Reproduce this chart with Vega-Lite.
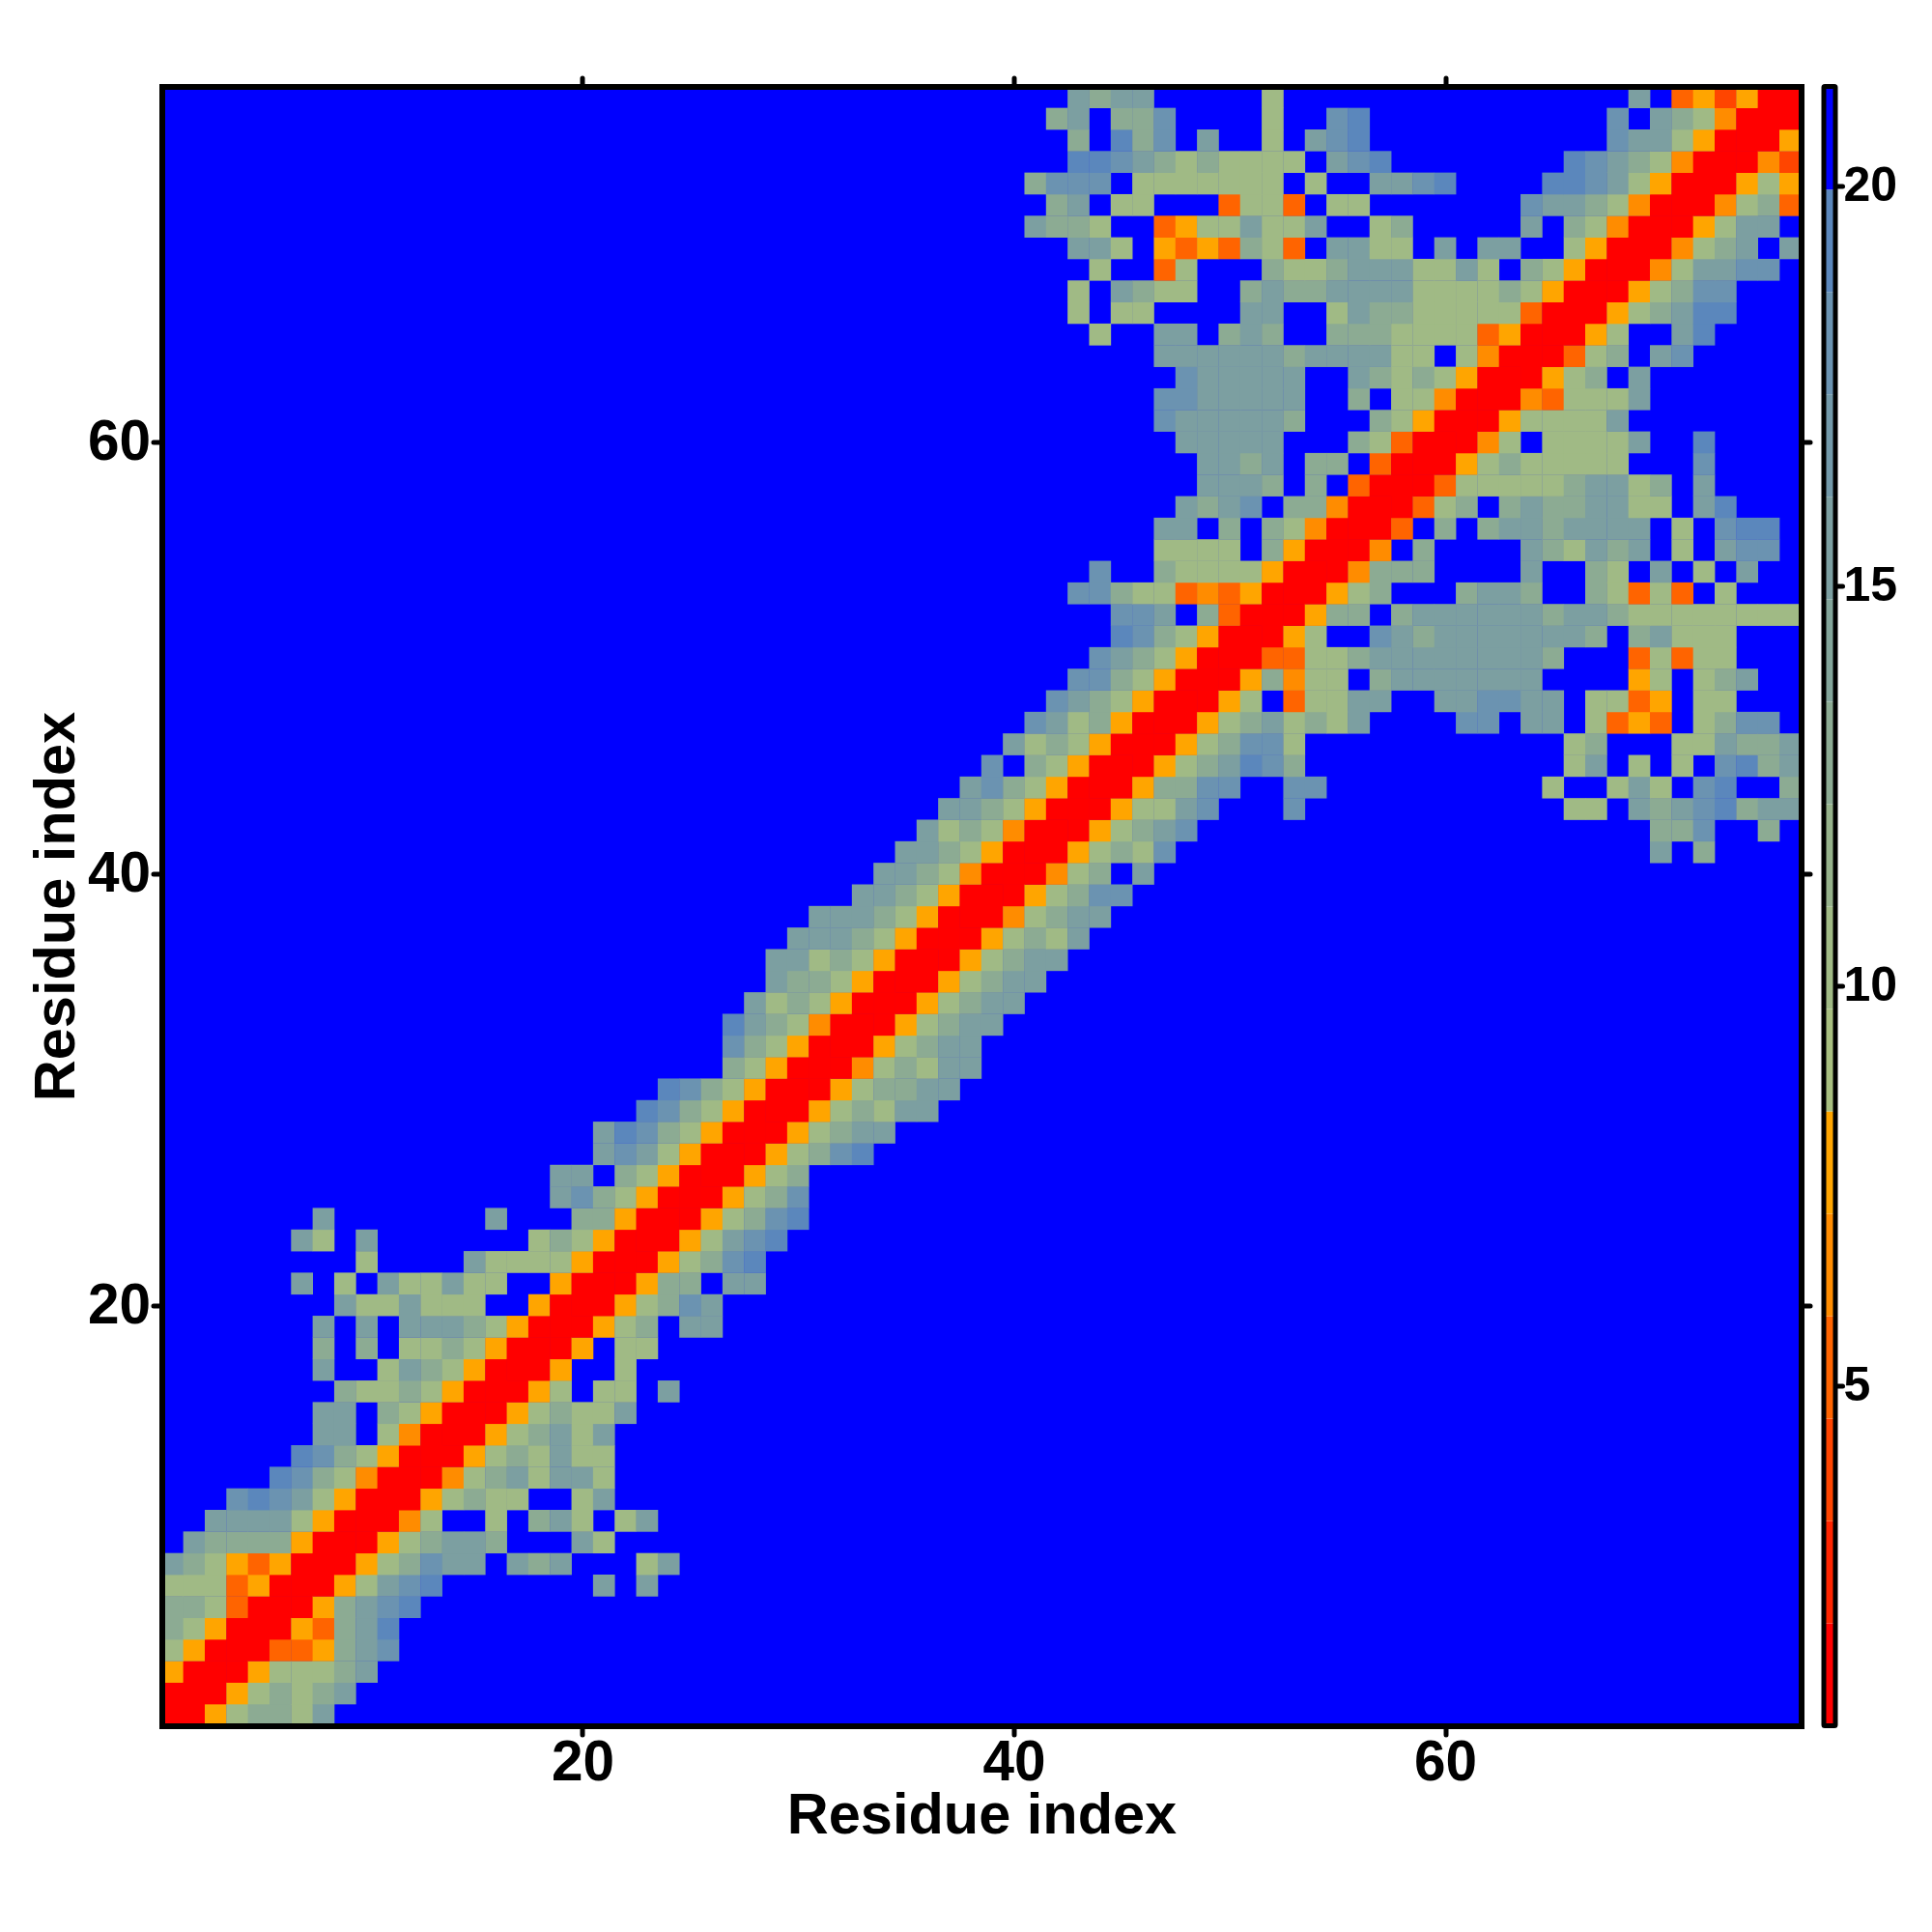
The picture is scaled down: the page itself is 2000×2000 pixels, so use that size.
{"$schema":"https://vega.github.io/schema/vega-lite/v6.json","background":"white","padding":{"left":28.5,"top":77.5,"right":5,"bottom":5},"bounds":"flush","spacing":23.5,"config":{"font":"Liberation Sans","view":{"continuousWidth":1697,"continuousHeight":1697}},"hconcat":[{"width":1697,"height":1697,"view":{"fill":"#0000ff","stroke":null},"data":{"name":"cells","values":[
{"i":1,"j":1,"v":1.4},{"i":1,"j":2,"v":1.4},{"i":2,"j":2,"v":1.4},{"i":1,"j":3,"v":7.8},{"i":2,"j":3,"v":1.4},{"i":3,"j":3,"v":1.4},{"i":1,"j":4,"v":10},{"i":2,"j":4,"v":7.8},{"i":3,"j":4,"v":1.4},{"i":4,"j":4,"v":1.4},
{"i":1,"j":5,"v":12.9},{"i":2,"j":5,"v":10},{"i":3,"j":5,"v":7.8},{"i":4,"j":5,"v":1.4},{"i":5,"j":5,"v":1.4},{"i":1,"j":6,"v":12.9},{"i":2,"j":6,"v":12.9},{"i":3,"j":6,"v":10},{"i":4,"j":6,"v":5.2},{"i":5,"j":6,"v":1.4},{"i":6,"j":6,"v":1.4},
{"i":1,"j":7,"v":10},{"i":2,"j":7,"v":10},{"i":3,"j":7,"v":10},{"i":4,"j":7,"v":5.2},{"i":5,"j":7,"v":7.8},{"i":6,"j":7,"v":1.4},{"i":7,"j":7,"v":1.4},
{"i":1,"j":8,"v":15.5},{"i":2,"j":8,"v":12.9},{"i":3,"j":8,"v":10},{"i":4,"j":8,"v":7.8},{"i":5,"j":8,"v":5.2},{"i":6,"j":8,"v":7.8},{"i":7,"j":8,"v":1.4},{"i":8,"j":8,"v":1.4},
{"i":2,"j":9,"v":15.5},{"i":3,"j":9,"v":12.9},{"i":4,"j":9,"v":12.9},{"i":5,"j":9,"v":12.9},{"i":6,"j":9,"v":12.9},{"i":7,"j":9,"v":7.8},{"i":8,"j":9,"v":1.4},{"i":9,"j":9,"v":1.4},
{"i":3,"j":10,"v":15.5},{"i":4,"j":10,"v":15.5},{"i":5,"j":10,"v":15.5},{"i":6,"j":10,"v":15.5},{"i":7,"j":10,"v":10},{"i":8,"j":10,"v":7.8},{"i":9,"j":10,"v":1.4},{"i":10,"j":10,"v":1.4},
{"i":4,"j":11,"v":18},{"i":5,"j":11,"v":19.3},{"i":6,"j":11,"v":18},{"i":7,"j":11,"v":15.5},{"i":8,"j":11,"v":10},{"i":9,"j":11,"v":7.8},{"i":10,"j":11,"v":1.4},{"i":11,"j":11,"v":1.4},
{"i":6,"j":12,"v":19.3},{"i":7,"j":12,"v":18},{"i":8,"j":12,"v":12.9},{"i":9,"j":12,"v":10},{"i":10,"j":12,"v":6.5},{"i":11,"j":12,"v":1.4},{"i":12,"j":12,"v":1.4},
{"i":7,"j":13,"v":19.3},{"i":8,"j":13,"v":18},{"i":9,"j":13,"v":12.9},{"i":10,"j":13,"v":10},{"i":11,"j":13,"v":7.8},{"i":12,"j":13,"v":1.4},{"i":13,"j":13,"v":1.4},
{"i":8,"j":14,"v":15.5},{"i":9,"j":14,"v":15.5},{"i":11,"j":14,"v":10},{"i":12,"j":14,"v":6.5},{"i":13,"j":14,"v":1.4},{"i":14,"j":14,"v":1.4},
{"i":8,"j":15,"v":15.5},{"i":9,"j":15,"v":15.5},{"i":11,"j":15,"v":12.9},{"i":12,"j":15,"v":10},{"i":13,"j":15,"v":7.8},{"i":14,"j":15,"v":1.4},{"i":15,"j":15,"v":1.4},
{"i":9,"j":16,"v":12.9},{"i":10,"j":16,"v":10},{"i":11,"j":16,"v":10},{"i":12,"j":16,"v":12.9},{"i":13,"j":16,"v":10},{"i":14,"j":16,"v":7.8},{"i":15,"j":16,"v":1.4},{"i":16,"j":16,"v":1.4},
{"i":8,"j":17,"v":15.5},{"i":11,"j":17,"v":10},{"i":12,"j":17,"v":15.5},{"i":13,"j":17,"v":12.9},{"i":14,"j":17,"v":10},{"i":15,"j":17,"v":7.8},{"i":16,"j":17,"v":1.4},{"i":17,"j":17,"v":1.4},
{"i":8,"j":18,"v":12.9},{"i":10,"j":18,"v":12.9},{"i":12,"j":18,"v":10},{"i":13,"j":18,"v":10},{"i":14,"j":18,"v":12.9},{"i":15,"j":18,"v":10},{"i":16,"j":18,"v":7.8},{"i":17,"j":18,"v":1.4},{"i":18,"j":18,"v":1.4},
{"i":8,"j":19,"v":15.5},{"i":10,"j":19,"v":15.5},{"i":12,"j":19,"v":15.5},{"i":13,"j":19,"v":15.5},{"i":14,"j":19,"v":15.5},{"i":15,"j":19,"v":12.9},{"i":16,"j":19,"v":10},{"i":17,"j":19,"v":7.8},{"i":18,"j":19,"v":1.4},{"i":19,"j":19,"v":1.4},
{"i":9,"j":20,"v":15.5},{"i":10,"j":20,"v":10},{"i":11,"j":20,"v":10},{"i":12,"j":20,"v":15.5},{"i":13,"j":20,"v":10},{"i":14,"j":20,"v":10},{"i":15,"j":20,"v":10},{"i":18,"j":20,"v":7.8},{"i":19,"j":20,"v":1.4},{"i":20,"j":20,"v":1.4},
{"i":7,"j":21,"v":15.5},{"i":9,"j":21,"v":10},{"i":11,"j":21,"v":15.5},{"i":12,"j":21,"v":10},{"i":13,"j":21,"v":10},{"i":14,"j":21,"v":15.5},{"i":15,"j":21,"v":10},{"i":16,"j":21,"v":10},{"i":19,"j":21,"v":7.8},{"i":20,"j":21,"v":1.4},{"i":21,"j":21,"v":1.4},
{"i":10,"j":22,"v":10},{"i":15,"j":22,"v":15.5},{"i":16,"j":22,"v":10},{"i":17,"j":22,"v":10},{"i":18,"j":22,"v":10},{"i":19,"j":22,"v":10},{"i":20,"j":22,"v":7.8},{"i":21,"j":22,"v":1.4},{"i":22,"j":22,"v":1.4},
{"i":7,"j":23,"v":15.5},{"i":8,"j":23,"v":10},{"i":10,"j":23,"v":15.5},{"i":18,"j":23,"v":10},{"i":19,"j":23,"v":12.9},{"i":20,"j":23,"v":10},{"i":21,"j":23,"v":7.8},{"i":22,"j":23,"v":1.4},{"i":23,"j":23,"v":1.4},
{"i":8,"j":24,"v":15.5},{"i":16,"j":24,"v":15.5},{"i":20,"j":24,"v":12.9},{"i":21,"j":24,"v":12.9},{"i":22,"j":24,"v":7.8},{"i":23,"j":24,"v":1.4},{"i":24,"j":24,"v":1.4},
{"i":19,"j":25,"v":15.5},{"i":20,"j":25,"v":18},{"i":21,"j":25,"v":12.9},{"i":22,"j":25,"v":10},{"i":23,"j":25,"v":7.8},{"i":24,"j":25,"v":1.4},{"i":25,"j":25,"v":1.4},
{"i":19,"j":26,"v":15.5},{"i":20,"j":26,"v":15.5},{"i":22,"j":26,"v":12.9},{"i":23,"j":26,"v":10},{"i":24,"j":26,"v":7.8},{"i":25,"j":26,"v":1.4},{"i":26,"j":26,"v":1.4},
{"i":21,"j":27,"v":15.5},{"i":22,"j":27,"v":18},{"i":23,"j":27,"v":15.5},{"i":24,"j":27,"v":10},{"i":25,"j":27,"v":7.8},{"i":26,"j":27,"v":1.4},{"i":27,"j":27,"v":1.4},
{"i":21,"j":28,"v":15.5},{"i":22,"j":28,"v":19.3},{"i":23,"j":28,"v":18},{"i":24,"j":28,"v":12.9},{"i":25,"j":28,"v":10},{"i":26,"j":28,"v":7.8},{"i":27,"j":28,"v":1.4},{"i":28,"j":28,"v":1.4},
{"i":23,"j":29,"v":19.3},{"i":24,"j":29,"v":18},{"i":25,"j":29,"v":12.9},{"i":26,"j":29,"v":10},{"i":27,"j":29,"v":7.8},{"i":28,"j":29,"v":1.4},{"i":29,"j":29,"v":1.4},
{"i":24,"j":30,"v":19.3},{"i":25,"j":30,"v":18},{"i":26,"j":30,"v":12.9},{"i":27,"j":30,"v":10},{"i":28,"j":30,"v":7.8},{"i":29,"j":30,"v":1.4},{"i":30,"j":30,"v":1.4},
{"i":27,"j":31,"v":12.9},{"i":28,"j":31,"v":10},{"i":29,"j":31,"v":7.8},{"i":30,"j":31,"v":1.4},{"i":31,"j":31,"v":1.4},
{"i":27,"j":32,"v":18},{"i":28,"j":32,"v":12.9},{"i":29,"j":32,"v":10},{"i":30,"j":32,"v":7.8},{"i":31,"j":32,"v":1.4},{"i":32,"j":32,"v":1.4},
{"i":27,"j":33,"v":19.3},{"i":28,"j":33,"v":15.5},{"i":29,"j":33,"v":12.9},{"i":30,"j":33,"v":10},{"i":31,"j":33,"v":6.5},{"i":32,"j":33,"v":1.4},{"i":33,"j":33,"v":1.4},
{"i":28,"j":34,"v":15.5},{"i":29,"j":34,"v":10},{"i":30,"j":34,"v":12.9},{"i":31,"j":34,"v":10},{"i":32,"j":34,"v":7.8},{"i":33,"j":34,"v":1.4},{"i":34,"j":34,"v":1.4},
{"i":29,"j":35,"v":15.5},{"i":30,"j":35,"v":12.9},{"i":31,"j":35,"v":12.9},{"i":32,"j":35,"v":10},{"i":33,"j":35,"v":7.8},{"i":34,"j":35,"v":1.4},{"i":35,"j":35,"v":1.4},
{"i":29,"j":36,"v":15.5},{"i":30,"j":36,"v":15.5},{"i":31,"j":36,"v":10},{"i":32,"j":36,"v":12.9},{"i":33,"j":36,"v":10},{"i":34,"j":36,"v":7.8},{"i":35,"j":36,"v":1.4},{"i":36,"j":36,"v":1.4},
{"i":30,"j":37,"v":15.5},{"i":31,"j":37,"v":15.5},{"i":32,"j":37,"v":15.5},{"i":33,"j":37,"v":12.9},{"i":34,"j":37,"v":10},{"i":35,"j":37,"v":7.8},{"i":36,"j":37,"v":1.4},{"i":37,"j":37,"v":1.4},
{"i":31,"j":38,"v":15.5},{"i":32,"j":38,"v":15.5},{"i":33,"j":38,"v":15.5},{"i":34,"j":38,"v":12.9},{"i":35,"j":38,"v":10},{"i":36,"j":38,"v":7.8},{"i":37,"j":38,"v":1.4},{"i":38,"j":38,"v":1.4},
{"i":33,"j":39,"v":15.5},{"i":34,"j":39,"v":15.5},{"i":35,"j":39,"v":12.9},{"i":36,"j":39,"v":10},{"i":37,"j":39,"v":7.8},{"i":38,"j":39,"v":1.4},{"i":39,"j":39,"v":1.4},
{"i":34,"j":40,"v":15.5},{"i":35,"j":40,"v":15.5},{"i":36,"j":40,"v":12.9},{"i":37,"j":40,"v":10},{"i":38,"j":40,"v":6.5},{"i":39,"j":40,"v":1.4},{"i":40,"j":40,"v":1.4},
{"i":35,"j":41,"v":15.5},{"i":36,"j":41,"v":15.5},{"i":37,"j":41,"v":12.9},{"i":38,"j":41,"v":10},{"i":39,"j":41,"v":7.8},{"i":40,"j":41,"v":1.4},{"i":41,"j":41,"v":1.4},
{"i":36,"j":42,"v":15.5},{"i":37,"j":42,"v":10},{"i":38,"j":42,"v":12.9},{"i":39,"j":42,"v":10},{"i":40,"j":42,"v":6.5},{"i":41,"j":42,"v":1.4},{"i":42,"j":42,"v":1.4},
{"i":37,"j":43,"v":15.5},{"i":38,"j":43,"v":15.5},{"i":39,"j":43,"v":12.9},{"i":40,"j":43,"v":10},{"i":41,"j":43,"v":7.8},{"i":42,"j":43,"v":1.4},{"i":43,"j":43,"v":1.4},
{"i":38,"j":44,"v":15.5},{"i":39,"j":44,"v":18},{"i":40,"j":44,"v":12.9},{"i":41,"j":44,"v":10},{"i":42,"j":44,"v":7.8},{"i":43,"j":44,"v":1.4},{"i":44,"j":44,"v":1.4},
{"i":39,"j":45,"v":18},{"i":41,"j":45,"v":12.9},{"i":42,"j":45,"v":10},{"i":43,"j":45,"v":7.8},{"i":44,"j":45,"v":1.4},{"i":45,"j":45,"v":1.4},
{"i":40,"j":46,"v":15.5},{"i":41,"j":46,"v":10},{"i":42,"j":46,"v":12.9},{"i":43,"j":46,"v":10},{"i":44,"j":46,"v":7.8},{"i":45,"j":46,"v":1.4},{"i":46,"j":46,"v":1.4},
{"i":41,"j":47,"v":18},{"i":42,"j":47,"v":15.5},{"i":43,"j":47,"v":10},{"i":44,"j":47,"v":12.9},{"i":45,"j":47,"v":7.8},{"i":46,"j":47,"v":1.4},{"i":47,"j":47,"v":1.4},
{"i":42,"j":48,"v":18},{"i":43,"j":48,"v":15.5},{"i":44,"j":48,"v":12.9},{"i":45,"j":48,"v":10},{"i":46,"j":48,"v":7.8},{"i":47,"j":48,"v":1.4},{"i":48,"j":48,"v":1.4},
{"i":43,"j":49,"v":18},{"i":44,"j":49,"v":18},{"i":45,"j":49,"v":12.9},{"i":46,"j":49,"v":10},{"i":47,"j":49,"v":7.8},{"i":48,"j":49,"v":1.4},{"i":49,"j":49,"v":1.4},
{"i":44,"j":50,"v":18},{"i":45,"j":50,"v":15.5},{"i":46,"j":50,"v":12.9},{"i":47,"j":50,"v":10},{"i":48,"j":50,"v":7.8},{"i":49,"j":50,"v":1.4},{"i":50,"j":50,"v":1.4},
{"i":45,"j":51,"v":19.3},{"i":46,"j":51,"v":18},{"i":47,"j":51,"v":12.9},{"i":48,"j":51,"v":10},{"i":49,"j":51,"v":7.8},{"i":50,"j":51,"v":1.4},{"i":51,"j":51,"v":1.4},
{"i":45,"j":52,"v":18},{"i":46,"j":52,"v":18},{"i":47,"j":52,"v":15.5},{"i":49,"j":52,"v":12.9},{"i":50,"j":52,"v":5.2},{"i":51,"j":52,"v":1.4},{"i":52,"j":52,"v":1.4},
{"i":43,"j":53,"v":18},{"i":44,"j":53,"v":18},{"i":45,"j":53,"v":12.9},{"i":46,"j":53,"v":10},{"i":47,"j":53,"v":10},{"i":48,"j":53,"v":5.2},{"i":49,"j":53,"v":6.5},{"i":50,"j":53,"v":5.2},{"i":51,"j":53,"v":7.8},{"i":52,"j":53,"v":1.4},{"i":53,"j":53,"v":1.4},
{"i":44,"j":54,"v":18},{"i":47,"j":54,"v":12.9},{"i":48,"j":54,"v":10},{"i":49,"j":54,"v":10},{"i":50,"j":54,"v":10},{"i":51,"j":54,"v":10},{"i":52,"j":54,"v":7.8},{"i":53,"j":54,"v":1.4},{"i":54,"j":54,"v":1.4},
{"i":47,"j":55,"v":10},{"i":48,"j":55,"v":10},{"i":49,"j":55,"v":10},{"i":50,"j":55,"v":10},{"i":52,"j":55,"v":12.9},{"i":53,"j":55,"v":7.8},{"i":54,"j":55,"v":1.4},{"i":55,"j":55,"v":1.4},
{"i":47,"j":56,"v":15.5},{"i":48,"j":56,"v":15.5},{"i":50,"j":56,"v":12.9},{"i":52,"j":56,"v":12.9},{"i":53,"j":56,"v":10},{"i":54,"j":56,"v":6.5},{"i":55,"j":56,"v":1.4},{"i":56,"j":56,"v":1.4},
{"i":48,"j":57,"v":15.5},{"i":49,"j":57,"v":12.9},{"i":50,"j":57,"v":15.5},{"i":51,"j":57,"v":18},{"i":53,"j":57,"v":12.9},{"i":54,"j":57,"v":12.9},{"i":55,"j":57,"v":6.5},{"i":56,"j":57,"v":1.4},{"i":57,"j":57,"v":1.4},
{"i":49,"j":58,"v":15.5},{"i":50,"j":58,"v":15.5},{"i":51,"j":58,"v":15.5},{"i":52,"j":58,"v":12.9},{"i":54,"j":58,"v":12.9},{"i":56,"j":58,"v":5.2},{"i":57,"j":58,"v":1.4},{"i":58,"j":58,"v":1.4},
{"i":49,"j":59,"v":15.5},{"i":50,"j":59,"v":15.5},{"i":51,"j":59,"v":12.9},{"i":52,"j":59,"v":15.5},{"i":54,"j":59,"v":12.9},{"i":55,"j":59,"v":12.9},{"i":57,"j":59,"v":5.2},{"i":58,"j":59,"v":1.4},{"i":59,"j":59,"v":1.4},
{"i":48,"j":60,"v":15.5},{"i":49,"j":60,"v":15.5},{"i":50,"j":60,"v":15.5},{"i":51,"j":60,"v":15.5},{"i":52,"j":60,"v":15.5},{"i":56,"j":60,"v":12.9},{"i":57,"j":60,"v":10},{"i":58,"j":60,"v":5.2},{"i":59,"j":60,"v":1.4},{"i":60,"j":60,"v":1.4},
{"i":47,"j":61,"v":18},{"i":48,"j":61,"v":15.5},{"i":49,"j":61,"v":15.5},{"i":50,"j":61,"v":15.5},{"i":51,"j":61,"v":15.5},{"i":52,"j":61,"v":15.5},{"i":53,"j":61,"v":12.9},{"i":57,"j":61,"v":12.9},{"i":58,"j":61,"v":10},{"i":59,"j":61,"v":7.8},{"i":60,"j":61,"v":1.4},{"i":61,"j":61,"v":1.4},
{"i":47,"j":62,"v":18},{"i":48,"j":62,"v":18},{"i":49,"j":62,"v":15.5},{"i":50,"j":62,"v":15.5},{"i":51,"j":62,"v":15.5},{"i":52,"j":62,"v":15.5},{"i":53,"j":62,"v":15.5},{"i":56,"j":62,"v":12.9},{"i":58,"j":62,"v":10},{"i":59,"j":62,"v":10},{"i":60,"j":62,"v":6.5},{"i":61,"j":62,"v":1.4},{"i":62,"j":62,"v":1.4},
{"i":48,"j":63,"v":18},{"i":49,"j":63,"v":15.5},{"i":50,"j":63,"v":15.5},{"i":51,"j":63,"v":15.5},{"i":52,"j":63,"v":15.5},{"i":53,"j":63,"v":15.5},{"i":56,"j":63,"v":15.5},{"i":57,"j":63,"v":12.9},{"i":58,"j":63,"v":10},{"i":59,"j":63,"v":12.9},{"i":60,"j":63,"v":10},{"i":61,"j":63,"v":7.8},{"i":62,"j":63,"v":1.4},{"i":63,"j":63,"v":1.4},
{"i":47,"j":64,"v":15.5},{"i":48,"j":64,"v":15.5},{"i":49,"j":64,"v":15.5},{"i":50,"j":64,"v":15.5},{"i":51,"j":64,"v":15.5},{"i":52,"j":64,"v":15.5},{"i":53,"j":64,"v":12.9},{"i":54,"j":64,"v":15.5},{"i":55,"j":64,"v":15.5},{"i":56,"j":64,"v":15.5},{"i":57,"j":64,"v":15.5},{"i":58,"j":64,"v":10},{"i":59,"j":64,"v":10},{"i":61,"j":64,"v":10},{"i":62,"j":64,"v":6.5},{"i":63,"j":64,"v":1.4},{"i":64,"j":64,"v":1.4},
{"i":44,"j":65,"v":10},{"i":47,"j":65,"v":15.5},{"i":48,"j":65,"v":15.5},{"i":50,"j":65,"v":12.9},{"i":51,"j":65,"v":15.5},{"i":52,"j":65,"v":12.9},{"i":55,"j":65,"v":12.9},{"i":56,"j":65,"v":12.9},{"i":57,"j":65,"v":12.9},{"i":58,"j":65,"v":10},{"i":59,"j":65,"v":10},{"i":60,"j":65,"v":10},{"i":61,"j":65,"v":10},{"i":62,"j":65,"v":5.2},{"i":63,"j":65,"v":7.8},{"i":64,"j":65,"v":1.4},{"i":65,"j":65,"v":1.4},
{"i":43,"j":66,"v":10},{"i":45,"j":66,"v":10},{"i":46,"j":66,"v":10},{"i":51,"j":66,"v":15.5},{"i":52,"j":66,"v":15.5},{"i":55,"j":66,"v":10},{"i":56,"j":66,"v":15.5},{"i":57,"j":66,"v":12.9},{"i":58,"j":66,"v":12.9},{"i":59,"j":66,"v":10},{"i":60,"j":66,"v":10},{"i":61,"j":66,"v":10},{"i":62,"j":66,"v":10},{"i":63,"j":66,"v":10},{"i":64,"j":66,"v":5.2},{"i":65,"j":66,"v":1.4},{"i":66,"j":66,"v":1.4},
{"i":43,"j":67,"v":10},{"i":45,"j":67,"v":15.5},{"i":46,"j":67,"v":12.9},{"i":47,"j":67,"v":10},{"i":48,"j":67,"v":10},{"i":51,"j":67,"v":12.9},{"i":52,"j":67,"v":15.5},{"i":53,"j":67,"v":12.9},{"i":54,"j":67,"v":12.9},{"i":55,"j":67,"v":15.5},{"i":56,"j":67,"v":15.5},{"i":57,"j":67,"v":15.5},{"i":58,"j":67,"v":15.5},{"i":59,"j":67,"v":10},{"i":60,"j":67,"v":10},{"i":61,"j":67,"v":10},{"i":62,"j":67,"v":10},{"i":63,"j":67,"v":12.9},{"i":64,"j":67,"v":10},{"i":65,"j":67,"v":7.8},{"i":66,"j":67,"v":1.4},{"i":67,"j":67,"v":1.4},
{"i":44,"j":68,"v":10},{"i":47,"j":68,"v":5.2},{"i":48,"j":68,"v":10},{"i":52,"j":68,"v":12.9},{"i":53,"j":68,"v":10},{"i":54,"j":68,"v":10},{"i":55,"j":68,"v":12.9},{"i":56,"j":68,"v":15.5},{"i":57,"j":68,"v":15.5},{"i":58,"j":68,"v":15.5},{"i":59,"j":68,"v":10},{"i":60,"j":68,"v":10},{"i":61,"j":68,"v":15.5},{"i":62,"j":68,"v":10},{"i":64,"j":68,"v":12.9},{"i":65,"j":68,"v":10},{"i":66,"j":68,"v":7.8},{"i":67,"j":68,"v":1.4},{"i":68,"j":68,"v":1.4},
{"i":43,"j":69,"v":15.5},{"i":44,"j":69,"v":15.5},{"i":45,"j":69,"v":10},{"i":47,"j":69,"v":7.8},{"i":48,"j":69,"v":5.2},{"i":49,"j":69,"v":7.8},{"i":50,"j":69,"v":5.2},{"i":51,"j":69,"v":12.9},{"i":52,"j":69,"v":10},{"i":53,"j":69,"v":5.2},{"i":55,"j":69,"v":15.5},{"i":56,"j":69,"v":15.5},{"i":57,"j":69,"v":10},{"i":58,"j":69,"v":10},{"i":60,"j":69,"v":15.5},{"i":62,"j":69,"v":15.5},{"i":63,"j":69,"v":15.5},{"i":66,"j":69,"v":10},{"i":67,"j":69,"v":7.8},{"i":68,"j":69,"v":1.4},{"i":69,"j":69,"v":1.4},
{"i":41,"j":70,"v":15.5},{"i":42,"j":70,"v":12.9},{"i":43,"j":70,"v":12.9},{"i":44,"j":70,"v":10},{"i":47,"j":70,"v":5.2},{"i":48,"j":70,"v":7.8},{"i":49,"j":70,"v":10},{"i":50,"j":70,"v":10},{"i":51,"j":70,"v":15.5},{"i":52,"j":70,"v":10},{"i":53,"j":70,"v":10},{"i":54,"j":70,"v":15.5},{"i":57,"j":70,"v":10},{"i":58,"j":70,"v":12.9},{"i":64,"j":70,"v":15.5},{"i":66,"j":70,"v":12.9},{"i":67,"j":70,"v":10},{"i":68,"j":70,"v":6.5},{"i":69,"j":70,"v":1.4},{"i":70,"j":70,"v":1.4},
{"i":42,"j":71,"v":12.9},{"i":43,"j":71,"v":15.5},{"i":45,"j":71,"v":10},{"i":46,"j":71,"v":10},{"i":50,"j":71,"v":5.2},{"i":51,"j":71,"v":10},{"i":52,"j":71,"v":10},{"i":53,"j":71,"v":5.2},{"i":55,"j":71,"v":10},{"i":56,"j":71,"v":10},{"i":64,"j":71,"v":18},{"i":65,"j":71,"v":15.5},{"i":66,"j":71,"v":15.5},{"i":67,"j":71,"v":12.9},{"i":68,"j":71,"v":10},{"i":69,"j":71,"v":6.5},{"i":70,"j":71,"v":1.4},{"i":71,"j":71,"v":1.4},
{"i":41,"j":72,"v":12.9},{"i":42,"j":72,"v":18},{"i":43,"j":72,"v":18},{"i":44,"j":72,"v":18},{"i":46,"j":72,"v":10},{"i":47,"j":72,"v":10},{"i":48,"j":72,"v":10},{"i":49,"j":72,"v":10},{"i":50,"j":72,"v":10},{"i":51,"j":72,"v":10},{"i":52,"j":72,"v":10},{"i":54,"j":72,"v":10},{"i":57,"j":72,"v":15.5},{"i":58,"j":72,"v":15.5},{"i":59,"j":72,"v":18},{"i":60,"j":72,"v":19.3},{"i":65,"j":72,"v":19.3},{"i":66,"j":72,"v":19.3},{"i":67,"j":72,"v":18},{"i":68,"j":72,"v":15.5},{"i":69,"j":72,"v":10},{"i":70,"j":72,"v":7.8},{"i":71,"j":72,"v":1.4},{"i":72,"j":72,"v":1.4},
{"i":43,"j":73,"v":19.3},{"i":44,"j":73,"v":19.3},{"i":45,"j":73,"v":18},{"i":46,"j":73,"v":15.5},{"i":47,"j":73,"v":12.9},{"i":48,"j":73,"v":10},{"i":49,"j":73,"v":12.9},{"i":50,"j":73,"v":10},{"i":51,"j":73,"v":10},{"i":52,"j":73,"v":10},{"i":53,"j":73,"v":10},{"i":55,"j":73,"v":15.5},{"i":56,"j":73,"v":18},{"i":57,"j":73,"v":19.3},{"i":66,"j":73,"v":19.3},{"i":67,"j":73,"v":18},{"i":68,"j":73,"v":15.5},{"i":69,"j":73,"v":12.9},{"i":70,"j":73,"v":10},{"i":71,"j":73,"v":6.5},{"i":72,"j":73,"v":1.4},{"i":73,"j":73,"v":1.4},
{"i":43,"j":74,"v":12.9},{"i":45,"j":74,"v":19.3},{"i":46,"j":74,"v":12.9},{"i":47,"j":74,"v":18},{"i":49,"j":74,"v":15.5},{"i":52,"j":74,"v":10},{"i":54,"j":74,"v":15.5},{"i":55,"j":74,"v":18},{"i":56,"j":74,"v":19.3},{"i":68,"j":74,"v":18},{"i":69,"j":74,"v":15.5},{"i":70,"j":74,"v":15.5},{"i":71,"j":74,"v":10},{"i":72,"j":74,"v":7.8},{"i":73,"j":74,"v":1.4},{"i":74,"j":74,"v":1.4},
{"i":42,"j":75,"v":12.9},{"i":43,"j":75,"v":15.5},{"i":45,"j":75,"v":12.9},{"i":46,"j":75,"v":12.9},{"i":47,"j":75,"v":18},{"i":52,"j":75,"v":10},{"i":55,"j":75,"v":18},{"i":56,"j":75,"v":19.3},{"i":68,"j":75,"v":18},{"i":70,"j":75,"v":15.5},{"i":71,"j":75,"v":12.9},{"i":72,"j":75,"v":10},{"i":73,"j":75,"v":6.5},{"i":74,"j":75,"v":1.4},{"i":75,"j":75,"v":1.4},
{"i":43,"j":76,"v":15.5},{"i":44,"j":76,"v":12.9},{"i":45,"j":76,"v":15.5},{"i":46,"j":76,"v":15.5},{"i":52,"j":76,"v":10},{"i":69,"j":76,"v":15.5},{"i":71,"j":76,"v":5.2},{"i":72,"j":76,"v":7.8},{"i":73,"j":76,"v":4},{"i":74,"j":76,"v":7.8},{"i":75,"j":76,"v":1.4},{"i":76,"j":76,"v":1.4}
]},"layer":[{"mark":{"type":"rect","width":22.7,"height":22.7},"encoding":{"x":{"field":"i","type":"quantitative","scale":{"domain":[0.5,76.5],"nice":false,"zero":false},"axis":{"orient":"bottom","values":[20,40,60],"title":"Residue index","grid":false,"zindex":1,"domainColor":"black","domainWidth":6,"domainCap":"square","tickColor":"black","tickWidth":5,"tickSize":9,"tickCap":"round","labelFont":"Liberation Sans","labelFontWeight":"bold","labelFontSize":58.5,"labelColor":"black","labelPadding":1,"titleFont":"Liberation Sans","titleFontWeight":"bold","titleFontSize":59.5,"titleColor":"black","titlePadding":-4}},"y":{"field":"j","type":"quantitative","scale":{"domain":[0.5,76.5],"nice":false,"zero":false},"axis":{"orient":"left","values":[20,40,60],"title":"Residue index","grid":false,"zindex":1,"domainColor":"black","domainWidth":6,"domainCap":"square","tickColor":"black","tickWidth":5,"tickSize":9,"tickCap":"round","labelFont":"Liberation Sans","labelFontWeight":"bold","labelFontSize":58.5,"labelColor":"black","labelPadding":3,"titleFont":"Liberation Sans","titleFontWeight":"bold","titleFontSize":59.5,"titleColor":"black","titlePadding":1.5}},"color":{"field":"v","type":"quantitative","legend":null,"scale":{"type":"threshold","domain":[2.03,3.31,4.59,5.87,7.15,8.43,9.71,10.99,12.27,13.55,14.83,16.11,17.39,18.67,19.95],"range":["#ff0000","#ff2500","#ff4500","#ff6400","#ff8c00","#ffa500","#a8bf80","#a0ba85","#96b28b","#8cab93","#83a59a","#7c9fa1","#7399a9","#6b93b1","#5b87bc","#0000ff"]}}}},{"mark":{"type":"rect","width":22.7,"height":22.7},"encoding":{"x":{"field":"j","type":"quantitative","scale":{"domain":[0.5,76.5],"nice":false,"zero":false},"axis":{"orient":"top","values":[20,40,60],"title":null,"labels":false,"grid":false,"zindex":1,"domainColor":"black","domainWidth":6,"domainCap":"square","tickColor":"black","tickWidth":5,"tickSize":9,"tickCap":"round"}},"y":{"field":"i","type":"quantitative","scale":{"domain":[0.5,76.5],"nice":false,"zero":false},"axis":{"orient":"right","values":[20,40,60],"title":null,"labels":false,"grid":false,"zindex":1,"domainColor":"black","domainWidth":6,"domainCap":"square","tickColor":"black","tickWidth":5,"tickSize":9,"tickCap":"round"}},"color":{"field":"v","type":"quantitative","legend":null,"scale":{"type":"threshold","domain":[2.03,3.31,4.59,5.87,7.15,8.43,9.71,10.99,12.27,13.55,14.83,16.11,17.39,18.67,19.95],"range":["#ff0000","#ff2500","#ff4500","#ff6400","#ff8c00","#ffa500","#a8bf80","#a0ba85","#96b28b","#8cab93","#83a59a","#7c9fa1","#7399a9","#6b93b1","#5b87bc","#0000ff"]}}}}],"resolve":{"axis":{"x":"independent","y":"independent"}}},{"width":12,"height":1697,"view":{"stroke":null},"layer":[{"data":{"values":[{"lo":0.75,"hi":2.03,"m":1.4},{"lo":2.03,"hi":3.31,"m":2.7},{"lo":3.31,"hi":4.59,"m":4},{"lo":4.59,"hi":5.87,"m":5.2},{"lo":5.87,"hi":7.15,"m":6.5},{"lo":7.15,"hi":8.43,"m":7.8},{"lo":8.43,"hi":9.71,"m":9},{"lo":9.71,"hi":10.99,"m":10.3},{"lo":10.99,"hi":12.27,"m":11.6},{"lo":12.27,"hi":13.55,"m":12.9},{"lo":13.55,"hi":14.83,"m":14.2},{"lo":14.83,"hi":16.11,"m":15.5},{"lo":16.11,"hi":17.39,"m":16.8},{"lo":17.39,"hi":18.67,"m":18},{"lo":18.67,"hi":19.95,"m":19.3},{"lo":19.95,"hi":21.24,"m":20.6}]},"mark":{"type":"rect"},"encoding":{"y":{"field":"lo","type":"quantitative","scale":{"domain":[0.75,21.24],"nice":false,"zero":false},"axis":{"orient":"right","values":[5,10,15,20],"format":"d","title":null,"grid":false,"domain":false,"zindex":1,"tickColor":"black","tickWidth":5,"tickSize":7,"tickCap":"round","labelFont":"Liberation Sans","labelFontWeight":"bold","labelFontSize":50,"labelColor":"black","labelPadding":1}},"y2":{"field":"hi"},"color":{"field":"m","type":"quantitative","legend":null,"scale":{"type":"threshold","domain":[2.03,3.31,4.59,5.87,7.15,8.43,9.71,10.99,12.27,13.55,14.83,16.11,17.39,18.67,19.95],"range":["#ff0000","#ff2500","#ff4500","#ff6400","#ff8c00","#ffa500","#a8bf80","#a0ba85","#96b28b","#8cab93","#83a59a","#7c9fa1","#7399a9","#6b93b1","#5b87bc","#0000ff"]}}}},{"data":{"values":[{"lo":0.75,"hi":21.24}]},"mark":{"type":"rect","fill":null,"stroke":"black","strokeWidth":5,"cornerRadius":1},"encoding":{"y":{"field":"lo","type":"quantitative"},"y2":{"field":"hi"}}}]}],"resolve":{"scale":{"color":"independent"}}}
